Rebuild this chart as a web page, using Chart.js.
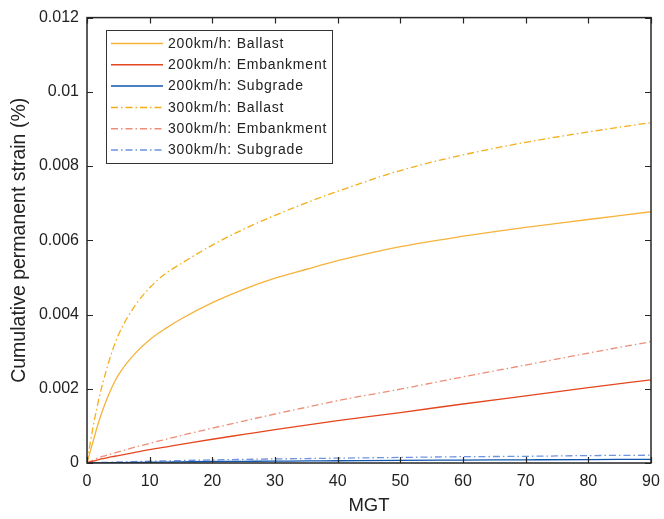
<!DOCTYPE html>
<html>
<head>
<meta charset="utf-8">
<script src="https://cdn.jsdelivr.net/npm/chart.js@4/dist/chart.umd.min.js"></script>
<style>
html,body{margin:0;padding:0;background:#fff;}
#wrap{width:664px;height:519px;}
</style>
</head>
<body>
<div id="wrap"><canvas id="c" width="664" height="519"></canvas></div>
<script>
// ---- data ----
const mgt = [0, 0.5, 1, 2, 3, 4, 5, 7.5, 10, 12.5, 15, 20, 25, 30, 35, 40, 50, 60, 70, 80, 90];
const ballast200 = [0, 0.0003, 0.0006, 0.00118, 0.00165, 0.00205, 0.00237, 0.00292, 0.00332, 0.00362, 0.00388, 0.00432, 0.00468, 0.00498, 0.00522, 0.00545, 0.00583, 0.00611, 0.00635, 0.00656, 0.00677];
const embank200 = [0, 0.00003, 0.00005, 0.0001, 0.00013, 0.00017, 0.0002, 0.00028, 0.00036, 0.00043, 0.0005, 0.00064, 0.00077, 0.0009, 0.00102, 0.00114, 0.00136, 0.00159, 0.00181, 0.00203, 0.00224];
const subgrade200 = [0, 0.000001, 0.000002, 0.000004, 0.000006, 0.000008, 0.00001, 0.000015, 0.00002, 0.000025, 0.00003, 0.00004, 0.000045, 0.00005, 0.000055, 0.00006, 0.00007, 0.000078, 0.000086, 0.000093, 0.0001];
const ballast300 = [0, 0.00052, 0.001, 0.0018, 0.00245, 0.003, 0.00345, 0.0042, 0.00472, 0.0051, 0.00537, 0.00587, 0.0063, 0.00667, 0.00701, 0.00732, 0.00788, 0.0083, 0.00864, 0.00892, 0.00917];
const embank300 = [0, 0.00004, 0.00008, 0.00015, 0.0002, 0.00025, 0.0003, 0.00042, 0.00053, 0.000635, 0.00074, 0.00094, 0.00113, 0.00132, 0.0015, 0.00168, 0.00199, 0.00232, 0.00264, 0.00296, 0.00327];
const subgrade300 = [0, 0.000004, 0.000007, 0.000012, 0.000017, 0.000022, 0.000027, 0.000038, 0.000048, 0.000057, 0.000066, 0.000083, 0.000097, 0.00011, 0.00012, 0.00013, 0.00015, 0.00017, 0.00018, 0.0002, 0.00021];
const seriesLabels = ['200km/h: Ballast', '200km/h: Embankment', '200km/h: Subgrade', '300km/h: Ballast', '300km/h: Embankment', '300km/h: Subgrade'];
const xTicks = [0, 10, 20, 30, 40, 50, 60, 70, 80, 90];
const yTicks = [0, 0.002, 0.004, 0.006, 0.008, 0.01, 0.012];
const yTickLabels = ['0', '0.002', '0.004', '0.006', '0.008', '0.01', '0.012'];
const xTitle = 'MGT';
const yTitle = 'Cumulative permanent strain (%)';

const seriesValues = [ballast200, embank200, subgrade200, ballast300, embank300, subgrade300];
const colors = ['#F7B23B', '#E4461E', '#1256AE', '#F4AE1A', '#EE8E78', '#6E93E2'];
const dashDot = [7, 3, 1.5, 3];
const dashes = [[], [], [], dashDot, dashDot, dashDot];

const FONT = '"Liberation Sans", Arial, Helvetica, sans-serif';

const datasets = seriesValues.map((vals, i) => ({
  label: seriesLabels[i],
  data: mgt.map((x, j) => ({x: x, y: vals[j]})),
  borderColor: colors[i],
  backgroundColor: colors[i],
  borderWidth: 1.3,
  borderDash: dashes[i],
  pointRadius: 0,
  fill: false,
  cubicInterpolationMode: 'monotone'
}));

const framePlugin = {
  id: 'frame',
  afterDatasetsDraw(chart) {
    const ctx = chart.ctx, a = chart.chartArea;
    const xs = chart.scales.x, ys = chart.scales.y;
    ctx.save();
    ctx.strokeStyle = '#262626';
    ctx.lineWidth = 1.2;
    ctx.beginPath();
    const tl = 6;
    xTicks.forEach(v => {
      const px = Math.round(xs.getPixelForValue(v)) + 0.5;
      ctx.moveTo(px, a.bottom); ctx.lineTo(px, a.bottom - tl);
      ctx.moveTo(px, a.top); ctx.lineTo(px, a.top + tl);
    });
    yTicks.forEach(v => {
      const py = Math.round(ys.getPixelForValue(v)) + 0.5;
      ctx.moveTo(a.left, py); ctx.lineTo(a.left + tl, py);
      ctx.moveTo(a.right, py); ctx.lineTo(a.right - tl, py);
    });
    ctx.stroke();
    ctx.lineWidth = 1.5;
    ctx.strokeRect(a.left, a.top, a.right - a.left, a.bottom - a.top);

    // legend box
    const lx = 106, ly = 30, lw = 226, lh = 133;
    ctx.fillStyle = '#fff';
    ctx.fillRect(lx, ly, lw, lh);
    ctx.strokeStyle = '#333';
    ctx.lineWidth = 1;
    ctx.strokeRect(lx + 0.5, ly + 0.5, lw, lh);
    ctx.font = '14px ' + FONT;
    try { ctx.letterSpacing = '0.8px'; } catch (e) {}
    ctx.textBaseline = 'middle';
    ctx.fillStyle = '#222';
    chart.data.datasets.forEach((ds, i) => {
      const y = 43.5 + i * 21.3;
      ctx.save();
      ctx.strokeStyle = ds.borderColor;
      ctx.lineWidth = 1.5;
      ctx.setLineDash(ds.borderDash);
      ctx.beginPath();
      ctx.moveTo(111, y); ctx.lineTo(163, y);
      ctx.stroke();
      ctx.restore();
      ctx.fillText(ds.label, 168, y + 0.5);
    });
    ctx.restore();
  }
};

new Chart(document.getElementById('c'), {
  type: 'line',
  data: {datasets: datasets},
  options: {
    responsive: false,
    animation: false,
    devicePixelRatio: 1,
    layout: {padding: {top: 15, right: 13, left: 0, bottom: 0}},
    plugins: {legend: {display: false}, tooltip: {enabled: false}},
    scales: {
      x: {
        type: 'linear', min: 0, max: 90,
        afterBuildTicks: s => { s.ticks = xTicks.map(v => ({value: v})); },
        afterFit: s => { s.height = 56; s.paddingRight = 0; s.paddingLeft = 0; },
        grid: {display: false, drawTicks: false},
        border: {display: false},
        ticks: {color: '#222', font: {family: FONT, size: 16}, padding: 9, maxRotation: 0},
        title: {display: true, text: xTitle, color: '#222', font: {family: FONT, size: 18.5}, padding: {top: 0, bottom: 2}}
      },
      y: {
        type: 'linear', min: 0, max: 0.012,
        afterBuildTicks: s => { s.ticks = yTicks.map(v => ({value: v})); },
        afterFit: s => { s.width = 87; },
        grid: {display: false, drawTicks: false},
        border: {display: false},
        ticks: {color: '#222', font: {family: FONT, size: 16}, padding: 8,
          callback: (v) => { const k = yTicks.findIndex(t => Math.abs(t - v) < 1e-9); return k >= 0 ? yTickLabels[k] : ''; }},
        title: {display: true, text: yTitle, color: '#222', font: {family: FONT, size: 19.5}, padding: {top: 8, bottom: 0}}
      }
    }
  },
  plugins: [framePlugin]
});
</script>
</body>
</html>
